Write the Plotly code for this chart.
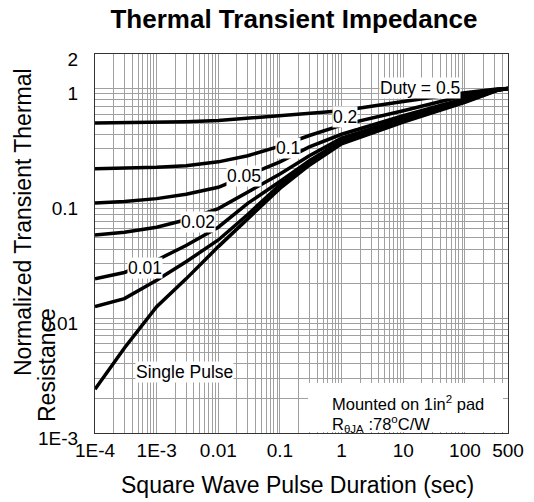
import math
import plotly.graph_objects as go

# ---- data ----
pulse_time = [1e-4, 3e-4, 1e-3, 3e-3, 1e-2, 3e-2, 0.1, 0.3, 1, 10, 100, 330, 500]
duty_05 = [0.50, 0.503, 0.51, 0.515, 0.526, 0.55, 0.58, 0.61, 0.64, 0.77, 0.92, 0.99, 1.0]
duty_02 = [0.20, 0.202, 0.206, 0.213, 0.23, 0.26, 0.315, 0.39, 0.48, 0.64, 0.87, 0.98, 1.0]
duty_01 = [0.101, 0.104, 0.11, 0.12, 0.138, 0.175, 0.23, 0.31, 0.40, 0.58, 0.81, 0.975, 1.0]
duty_005 = [0.053, 0.056, 0.062, 0.072, 0.09, 0.125, 0.18, 0.26, 0.37, 0.55, 0.79, 0.97, 1.0]
duty_002 = [0.022, 0.025, 0.032, 0.043, 0.062, 0.10, 0.155, 0.235, 0.35, 0.53, 0.78, 0.97, 1.0]
duty_001 = [0.0126, 0.0148, 0.0214, 0.031, 0.048, 0.08, 0.145, 0.225, 0.34, 0.52, 0.77, 0.965, 1.0]
single_pulse = [0.0024, 0.0055, 0.0126, 0.022, 0.042, 0.074, 0.135, 0.215, 0.33, 0.51, 0.76, 0.96, 1.0]

series = [duty_05, duty_02, duty_01, duty_005, duty_002, duty_001, single_pulse]

x_tickvals = [1e-4, 1e-3, 0.01, 0.1, 1, 10, 100, 500]
x_ticktext = ["1E-4", "1E-3", "0.01", "0.1", "1", "10", "100", "500"]
y_tickvals = [1e-3, 0.01, 0.1, 1, 2]
y_ticktext = ["1E-3", "0.01", "0.1", "1", "2"]

# curve labels (text, x, y in data units)
curve_labels = ["Duty = 0.5", "0.2", "0.1", "0.05", "0.02", "0.01", "Single Pulse"]
label_x = [18.5, 1.14, 0.136, 0.0262, 0.0047, 0.00064, 0.00284]
label_y = [1.02, 0.565, 0.304, 0.173, 0.069, 0.0275, 0.00343]

FONT = "Arial, Liberation Sans, sans-serif"

fig = go.Figure()
for s in series:
    fig.add_trace(go.Scatter(x=pulse_time, y=s, mode="lines",
                             line=dict(color="black", width=3.5),
                             showlegend=False, hoverinfo="skip"))

grid = "#a0a0a0"
fig.update_xaxes(type="log", range=[-4, math.log10(500)], automargin=False,
                 tickvals=x_tickvals, ticktext=x_ticktext,
                 showgrid=True, gridcolor=grid, gridwidth=1,
                 minor=dict(dtick="D1", showgrid=True, gridcolor=grid, gridwidth=1),
                 showline=True, linecolor="#333333", linewidth=1, mirror=True,
                 zeroline=False, ticks="", ticklabelstandoff=0,
                 tickfont=dict(family=FONT, size=19, color="black"))
fig.update_yaxes(type="log", range=[-3, math.log10(2)], automargin=False,
                 tickvals=y_tickvals, ticktext=y_ticktext,
                 showgrid=True, gridcolor=grid, gridwidth=1,
                 minor=dict(dtick="D1", showgrid=True, gridcolor=grid, gridwidth=1),
                 showline=True, linecolor="#333333", linewidth=1, mirror=True,
                 zeroline=False, ticks="", ticklabelstandoff=12, ticklabelshift=5,
                 tickfont=dict(family=FONT, size=19, color="black"))

L, R, T, B = 95, 26, 54, 69
W, H = 534, 502
pw, ph = W - L - R, H - T - B

def px2paper(px, py):
    return (px - L) / pw, (H - B - py) / ph

annotations = []
for txt, lx, ly in zip(curve_labels, label_x, label_y):
    annotations.append(dict(x=math.log10(lx), y=math.log10(ly), xref="x", yref="y",
                            xanchor="center", yanchor="middle",
                            text=txt, showarrow=False, bgcolor="white",
                            borderpad=0,
                            font=dict(family=FONT, size=17.5, color="black")))

# box with mounting note
bx0, by0 = px2paper(308, 432)
bx1, by1 = px2paper(503, 383)
shapes = [dict(type="rect", xref="paper", yref="paper", x0=bx0, x1=bx1, y0=by0, y1=by1,
               fillcolor="white", line=dict(width=0), layer="above")]
tx, ty = px2paper(330, 403)
annotations.append(dict(x=tx, y=ty, xref="paper", yref="paper", xanchor="left",
                        yanchor="middle",
                        text="Mounted on 1in<sup>2</sup> pad", showarrow=False,
                        font=dict(family=FONT, size=16.5, color="black")))
tx, ty = px2paper(330, 424)
annotations.append(dict(x=tx, y=ty, xref="paper", yref="paper", xanchor="left",
                        yanchor="middle",
                        text="R<sub>θJA</sub> :78<sup>o</sup>C/W", showarrow=False,
                        font=dict(family=FONT, size=16.5, color="black")))

# axis titles
ax_x, ax_y = px2paper(297, 485)
annotations.append(dict(x=ax_x, y=ax_y, xref="paper", yref="paper",
                        xanchor="center", yanchor="middle",
                        text="Square Wave Pulse Duration (sec)", showarrow=False,
                        font=dict(family=FONT, size=23, color="black")))
y1x, y1y = px2paper(23, 222)
annotations.append(dict(x=y1x, y=y1y, xref="paper", yref="paper", textangle=-90,
                        xanchor="center", yanchor="middle",
                        text="Normalized Transient Thermal", showarrow=False,
                        font=dict(family=FONT, size=23, color="black")))
y2x, y2y = px2paper(47, 365)
annotations.append(dict(x=y2x, y=y2y, xref="paper", yref="paper", textangle=-90,
                        xanchor="center", yanchor="middle",
                        text="Resistance", showarrow=False,
                        font=dict(family=FONT, size=23, color="black")))

fig.update_layout(
    width=W, height=H,
    margin=dict(l=L, r=R, t=T, b=B),
    paper_bgcolor="white", plot_bgcolor="white",
    title=dict(text="<b>Thermal Transient Impedance</b>", x=294 / W, xanchor="center",
               y=1 - 19 / H, yanchor="middle",
               font=dict(family=FONT, size=26, color="black")),
    annotations=annotations, shapes=shapes,
)

fig.write_html("out.html", config={"displayModeBar": False},
               post_script="document.body.style.margin='0';document.body.style.overflow='hidden';")
